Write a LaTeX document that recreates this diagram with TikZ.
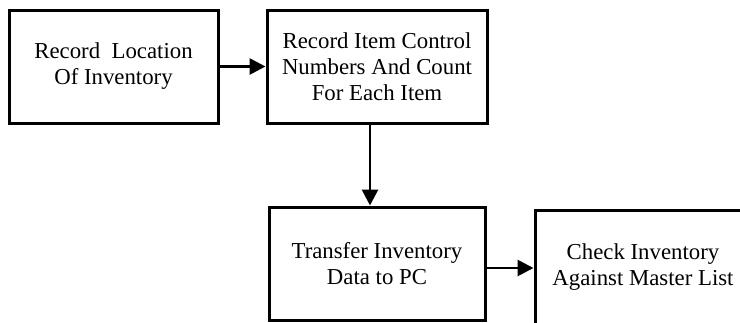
\documentclass[tikz,border=0pt]{standalone}
\usepackage{fontspec}
\setmainfont{Liberation Serif}
\usetikzlibrary{arrows.meta}
\begin{document}
\begin{tikzpicture}[x=0.5pt,y=-0.5pt,
  stepbox/.style={draw=black, line width=1.5pt, fill=white, inner sep=0pt, align=center,
    font=\fontsize{11.4}{13}\selectfont},
  arr/.style={line width=1.4pt, -{Triangle[length=8pt,width=8pt]}}]
\useasboundingbox (0,0) rectangle (740,322);
\clip (0,0) rectangle (740,322);
\fill[white] (0,0) rectangle (740,322);
\node[stepbox, minimum width=104.5pt, minimum height=56.5pt] (b1) at (113.5,66.5) {Record~~Location\\Of Inventory};
\node[stepbox, minimum width=110pt, minimum height=56.5pt] (b2) at (377,66.5) {Record Item Control\\Numbers And Count\\For Each Item};
\node[stepbox, minimum width=108pt, minimum height=56.5pt] (b3) at (377,263.5) {Transfer Inventory\\Data to PC};
\node[stepbox, minimum width=108pt, minimum height=57pt] (b4) at (643,267) {Check Inventory\\Against Master List};
\coordinate (vx) at (370,0);
\coordinate (ay) at (0,268);
\draw[arr] (b1.east) -- (b2.west);
\draw[arr] (b2.south -| vx) -- (b3.north -| vx);
\draw[arr] (b3.east |- ay) -- (b4.west |- ay);
\end{tikzpicture}
\end{document}
